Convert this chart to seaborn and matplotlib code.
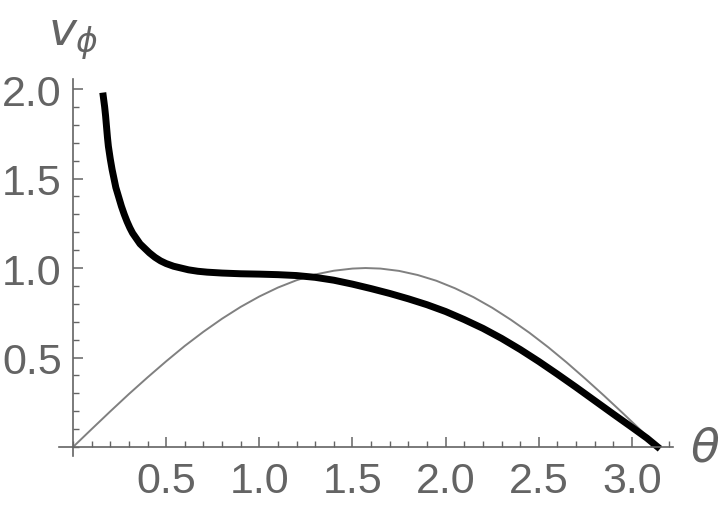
import numpy as np
import pandas as pd
import seaborn as sns
from matplotlib import pyplot as plt
from matplotlib.ticker import MultipleLocator

# thick curve
theta_v = [0.16, 0.165, 0.17, 0.175, 0.18, 0.185, 0.19, 0.20, 0.21, 0.22, 0.23, 0.24,
           0.25, 0.26, 0.275, 0.29, 0.305, 0.32, 0.34, 0.36, 0.385, 0.41, 0.44, 0.47,
           0.50, 0.54, 0.58, 0.62, 0.67, 0.72, 0.8, 0.9, 1.0, 1.1, 1.2, 1.3, 1.4,
           1.5, 1.6, 1.7, 1.8, 1.9, 2.0, 2.1, 2.2, 2.3, 2.4, 2.5, 2.6, 2.7, 2.8,
           2.9, 3.0, 3.08, 3.15]
v_phi = [1.98, 1.94, 1.90, 1.85, 1.79, 1.73, 1.68, 1.61, 1.55, 1.50, 1.45, 1.415,
         1.38, 1.345, 1.30, 1.26, 1.225, 1.195, 1.165, 1.135, 1.11, 1.085, 1.06, 1.04,
         1.025, 1.01, 1.0, 0.99, 0.982, 0.977, 0.972, 0.968, 0.966, 0.963, 0.958,
         0.948, 0.932, 0.91, 0.885, 0.858, 0.828, 0.795, 0.757, 0.712, 0.663, 0.607,
         0.545, 0.478, 0.407, 0.334, 0.259, 0.184, 0.11, 0.05, -0.01]

# thin reference curve
theta_s = [0.0, 0.1, 0.2, 0.3, 0.4, 0.5, 0.6, 0.7, 0.8, 0.9, 1.0, 1.1, 1.2, 1.3,
           1.4, 1.5, 1.57, 1.65, 1.75, 1.85, 1.95, 2.05, 2.15, 2.25, 2.35, 2.45,
           2.55, 2.65, 2.75, 2.85, 2.95, 3.05, 3.14]
v_s = [0.0, 0.1, 0.199, 0.296, 0.389, 0.479, 0.565, 0.644, 0.717, 0.783, 0.841,
       0.891, 0.932, 0.964, 0.985, 0.997, 1.0, 0.997, 0.984, 0.961, 0.929, 0.887,
       0.837, 0.778, 0.711, 0.638, 0.558, 0.472, 0.381, 0.287, 0.19, 0.091, 0.0]

x_ticks = [0.5, 1.0, 1.5, 2.0, 2.5, 3.0]
y_ticks = [0.5, 1.0, 1.5, 2.0]

sns.set_style("white")
plt.rcParams['font.family'] = ['Liberation Sans', 'DejaVu Sans']
gray = "#646464"

fig = plt.figure(figsize=(7.2, 5.1), dpi=100)
ax = fig.add_axes([59 / 720, 53 / 510, 614 / 720, 377 / 510])

sns.lineplot(x=theta_s, y=v_s, ax=ax, color="#808080", linewidth=1.4, sort=False)
sns.lineplot(x=theta_v, y=v_phi, ax=ax, color="black", linewidth=5,
             sort=False, solid_capstyle="butt")

ax.set_xlim(-0.075, 3.22)
ax.set_ylim(-0.05, 2.056)
for s in ["top", "right"]:
    ax.spines[s].set_visible(False)
ax.spines["left"].set_position(("data", 0))
ax.spines["bottom"].set_position(("data", 0))
for s in ["left", "bottom"]:
    ax.spines[s].set_color(gray)
    ax.spines[s].set_linewidth(1.2)

ax.set_xticks(x_ticks)
ax.set_yticks(y_ticks)
ax.set_xticklabels([f"{t:.1f}" for t in x_ticks])
ax.set_yticklabels([f"{t:.1f}" for t in y_ticks])
ax.xaxis.set_minor_locator(MultipleLocator(0.1))
ax.yaxis.set_minor_locator(MultipleLocator(0.1))
ax.tick_params(which="both", bottom=True, left=True)
ax.tick_params(which="major", direction="in", length=7, width=1.1, color=gray,
               labelsize=31, labelcolor=gray, pad=10)
ax.tick_params(which="minor", direction="in", length=4, width=1.0, color=gray)
ax.tick_params(axis="y", which="major", pad=8)

fig.text(48 / 720, 1 - 45 / 510, r"$v_\phi$", fontsize=34, color=gray)
fig.text(690 / 720, 1 - 462 / 510, r"$\theta$", fontsize=34, color=gray)

fig.savefig("out.png", dpi=100)
